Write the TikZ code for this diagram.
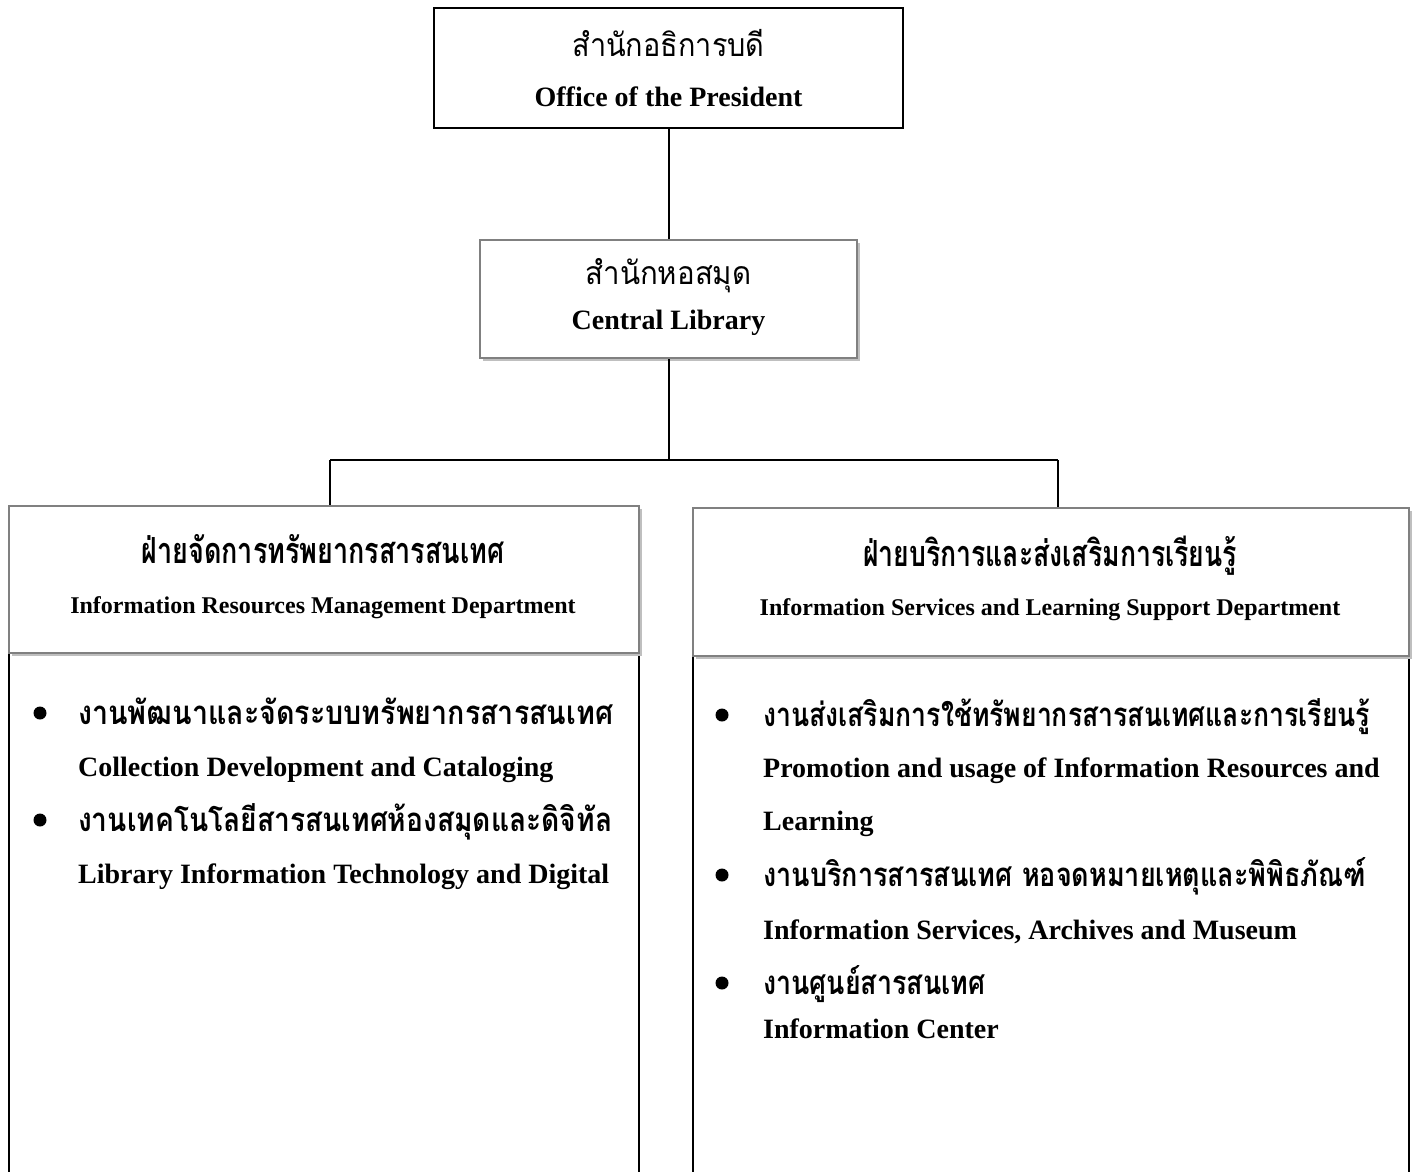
\documentclass[tikz,border=0pt]{standalone}
\usepackage{fontspec}
\usepackage{graphicx}
\setmainfont{Liberation Serif}
\newfontfamily\thaifont[Script=Thai]{Loma}
\usetikzlibrary{shadows}
\newcommand{\thw}[2]{\resizebox{#1}{\height}{\thaifont #2}}
\tikzset{
  plainbox/.style={draw=black, line width=2pt, fill=white, rectangle, inner sep=0pt},
  shadowbox/.style={draw=black!50, line width=2pt, fill=white, rectangle, inner sep=0pt,
     drop shadow={shadow xshift=3pt, shadow yshift=-3pt, fill=black!25, opacity=1}},
  bodybox/.style={draw=black, line width=2pt, rectangle, inner sep=0pt},
  conn/.style={draw=black, line width=2pt},
  entxt/.style={inner sep=0pt, anchor=base},
  thtxt/.style={inner sep=0pt, anchor=base},
  dot/.style={circle, fill=black, inner sep=0pt, minimum size=13pt},
  bth/.style={inner sep=0pt, anchor=base west},
  ben/.style={inner sep=0pt, anchor=base west, font=\fontsize{28}{30}\selectfont\bfseries},
}
\begin{document}
\begin{tikzpicture}[x=1pt,y=-1pt]
\useasboundingbox[fill=white] (0,0) rectangle (1414,1171);
% top box
\node[plainbox, minimum width=469pt, minimum height=120pt] (pres) at (668.5,68) {};
\node[thtxt] (presth) at (668.5,56) {\thw{192pt}{\fontsize{32}{32}\selectfont สำนักอธิการบดี}};
\node[entxt, font=\fontsize{28}{30}\selectfont\bfseries] (presen) at (668.5,106) {Office of the President};
% central library
\node[shadowbox, minimum width=377pt, minimum height=118pt] (lib) at (668.5,299) {};
\node[thtxt] (libth) at (668.5,284) {\thw{166pt}{\fontsize{32}{32}\selectfont สำนักหอสมุด}};
\node[entxt, font=\fontsize{28}{30}\selectfont\bfseries] (liben) at (668.5,329) {Central Library};
% connectors
\draw[conn] (pres.south) -- (lib.north);
\coordinate (junc) at (668.5,460);
\coordinate (jl) at (330,460);
\coordinate (jr) at (1058,460);
% department bodies
\node[bodybox, minimum width=630pt, minimum height=540pt, anchor=north west] (lbody) at (8,652) {};
\node[bodybox, minimum width=716pt, minimum height=540pt, anchor=north west] (rbody) at (692,655) {};
% department headers
\node[shadowbox, minimum width=630pt, minimum height=147pt, anchor=north west] (lhead) at (8,505) {};
\node[shadowbox, minimum width=716pt, minimum height=148pt, anchor=north west] (rhead) at (692,507) {};
\draw[conn] (lib.south) -- (junc);
\draw[conn] (jl) -- (jr);
\draw[conn] (jl) -- (jl |- lhead.north);
\draw[conn] (jr) -- (jr |- rhead.north);
\node[thtxt] (lheadth) at (323,563) {\thw{363pt}{\fontsize{36}{36}\selectfont\bfseries ฝ่ายจัดการทรัพยากรสารสนเทศ}};
\node[entxt, font=\fontsize{24}{26}\selectfont\bfseries] (lheaden) at (323,613) {Information Resources Management Department};
\node[thtxt] (rheadth) at (1050,566) {\thw{374pt}{\fontsize{36}{36}\selectfont\bfseries ฝ่ายบริการและส่งเสริมการเรียนรู้}};
\node[entxt, font=\fontsize{24}{26}\selectfont\bfseries] (rheaden) at (1050,615) {Information Services and Learning Support Department};
% left body items
\node[dot] (lb1) at (40,713) {};
\node[bth] (l1th) at (78,724) {\thw{535pt}{\fontsize{33}{33}\selectfont\bfseries งานพัฒนาและจัดระบบทรัพยากรสารสนเทศ}};
\node[ben] (l1en) at (78,776) {Collection Development and Cataloging};
\node[dot] (lb2) at (40,820) {};
\node[bth] (l2th) at (78,831) {\thw{534pt}{\fontsize{33}{33}\selectfont\bfseries งานเทคโนโลยีสารสนเทศห้องสมุดและดิจิทัล}};
\node[ben] (l2en) at (78,883) {Library Information Technology and Digital};
% right body items
\node[dot] (rb1) at (722,715) {};
\node[bth] (r1th) at (763,726) {\thw{607pt}{\fontsize{33}{33}\selectfont\bfseries งานส่งเสริมการใช้ทรัพยากรสารสนเทศและการเรียนรู้}};
\node[ben] (r1en) at (763,777) {Promotion and usage of Information Resources and};
\node[ben] (r1en2) at (763,830) {Learning};
\node[dot] (rb2) at (722,875) {};
\node[bth] (r2th) at (763,886) {\thw{603pt}{\fontsize{33}{33}\selectfont\bfseries งานบริการสารสนเทศ หอจดหมายเหตุและพิพิธภัณฑ์}};
\node[ben] (r2en) at (763,939) {Information Services, Archives and Museum};
\node[dot] (rb3) at (722,983) {};
\node[bth] (r3th) at (763,994) {\thw{222pt}{\fontsize{33}{33}\selectfont\bfseries งานศูนย์สารสนเทศ}};
\node[ben] (r3en) at (763,1038) {Information Center};
\end{tikzpicture}
\end{document}
